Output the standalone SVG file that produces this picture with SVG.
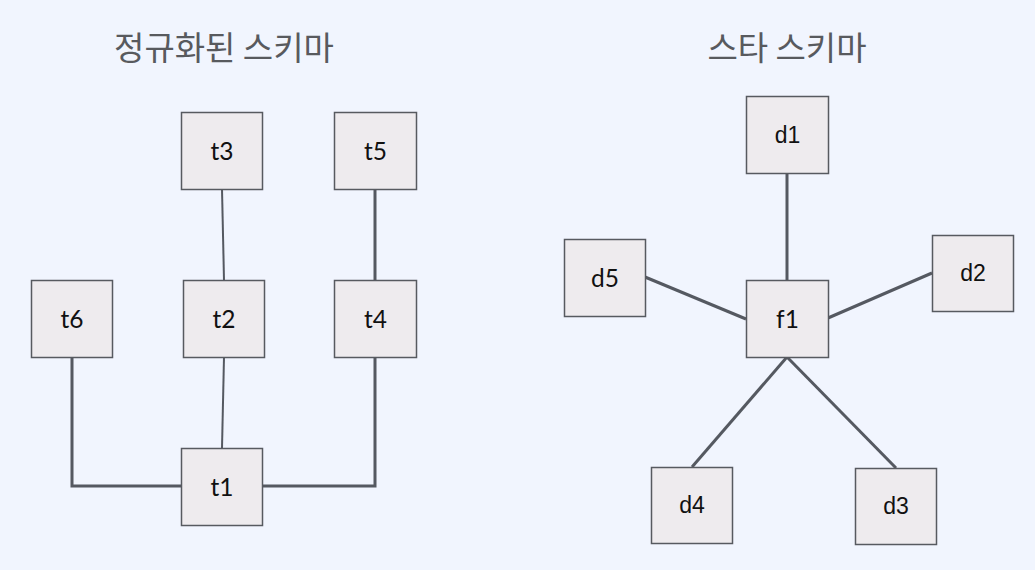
<svg xmlns="http://www.w3.org/2000/svg" width="1035" height="570" viewBox="0 0 1035 570">
<style>
.bg{fill:#F1F5FE}
.node rect{fill:#EEEBEE;stroke:#575A60;stroke-width:1.5}
.node text{font-family:Lato,"Liberation Sans",sans-serif;font-size:24.5px;fill:#111;text-anchor:middle;dominant-baseline:central}
.node text.a{font-family:"Liberation Sans",Arial,sans-serif;font-size:23px}
.title{font-family:"Noto Sans CJK KR","Noto Sans",sans-serif;font-size:33px;fill:#585A5E;text-anchor:middle}
.conn{fill:none;stroke:#555961;stroke-width:3}
.thin{stroke-width:2}
</style>
<rect class="bg" x="0" y="0" width="1035" height="570"/>
<text class="title" x="224" y="60">정규화된 스키마</text>
<text class="title" x="787" y="60">스타 스키마</text>
<g id="connectors">
<line class="conn thin" x1="222" y1="189" x2="224" y2="280"/>
<line class="conn thin" x1="224" y1="357" x2="222" y2="448"/>
<line class="conn" x1="375" y1="189" x2="375" y2="280"/>
<polyline class="conn" points="72,357 72,486 181,486"/>
<polyline class="conn" points="375,357 375,486 262,486"/>
<line class="conn" x1="787" y1="173" x2="787" y2="280"/>
<line class="conn" x1="645" y1="277" x2="746" y2="319"/>
<line class="conn" x1="932" y1="273" x2="828" y2="318"/>
<line class="conn" x1="787" y1="357" x2="692" y2="467"/>
<line class="conn" x1="787" y1="357" x2="896" y2="468"/>
</g>
<g id="t3" class="node"><rect x="181.5" y="112.5" width="81" height="77"/><text x="222" y="150.5">t3</text></g>
<g id="t5" class="node"><rect x="334.5" y="112.5" width="82" height="77"/><text x="375.5" y="150.5">t5</text></g>
<g id="t6" class="node"><rect x="31.5" y="280.5" width="81" height="77"/><text x="72" y="318.5">t6</text></g>
<g id="t2" class="node"><rect x="183.5" y="280.5" width="81" height="77"/><text x="224" y="318.5">t2</text></g>
<g id="t4" class="node"><rect x="334.5" y="280.5" width="82" height="77"/><text x="375.5" y="318.5">t4</text></g>
<g id="t1" class="node"><rect x="181.5" y="448.5" width="81" height="77"/><text x="222" y="486.5">t1</text></g>
<g id="d1" class="node"><rect x="746.5" y="96.5" width="82" height="77"/><text class="a" x="787.5" y="134.5">d1</text></g>
<g id="d5" class="node"><rect x="564.5" y="239.5" width="81" height="77"/><text x="605" y="277.5">d5</text></g>
<g id="f1" class="node"><rect x="746.5" y="280.5" width="82" height="77"/><text x="787.5" y="318.5">f1</text></g>
<g id="d2" class="node"><rect x="932.5" y="235.5" width="81" height="76"/><text class="a" x="973" y="273">d2</text></g>
<g id="d4" class="node"><rect x="651.5" y="467.5" width="81" height="76"/><text class="a" x="692" y="505">d4</text></g>
<g id="d3" class="node"><rect x="855.5" y="468.5" width="81" height="76"/><text class="a" x="896" y="506">d3</text></g>
</svg>
